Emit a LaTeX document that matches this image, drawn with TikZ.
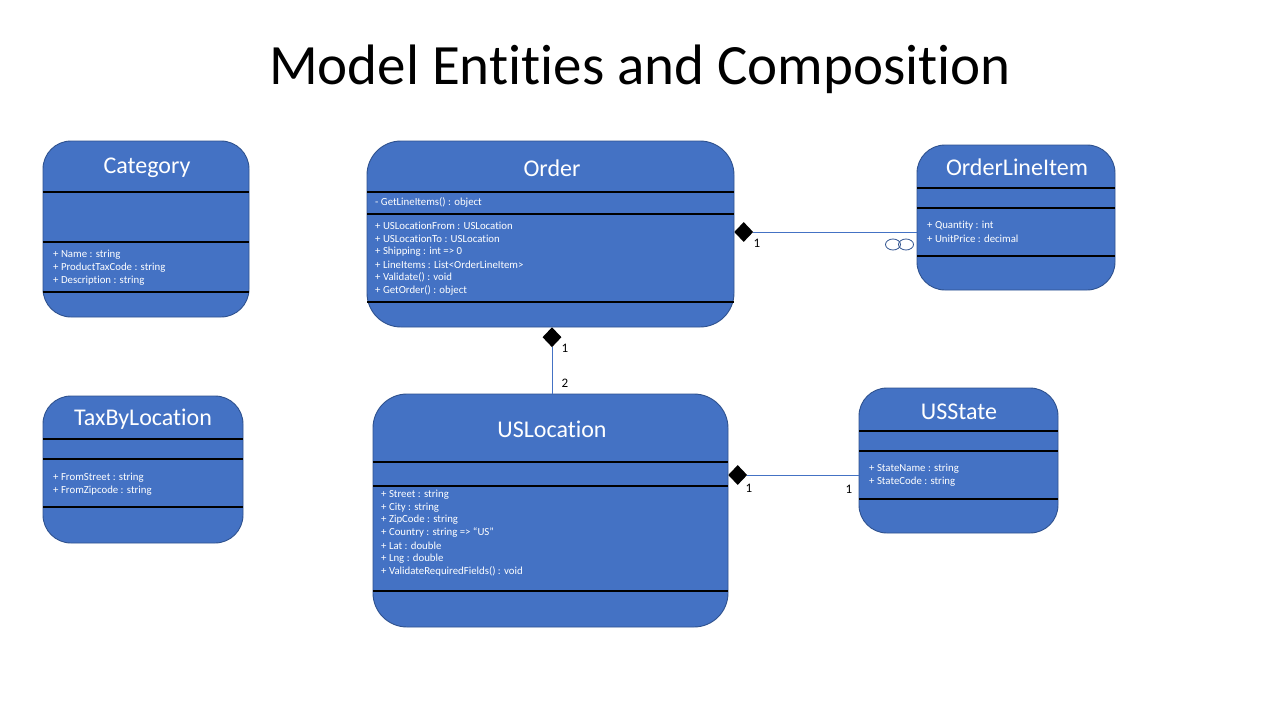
\documentclass[tikz,border=0pt]{standalone}
\usepackage{fontspec}
\setmainfont[Ligatures={NoCommon}]{Carlito}
\usetikzlibrary{shapes.geometric}
\definecolor{boxblue}{HTML}{4472C4}
\definecolor{boxedge}{HTML}{2F528F}
\begin{document}
\begin{tikzpicture}[x=1pt,y=-1pt,
 cls/.style={draw=boxedge, line width=0.9pt, fill=boxblue, rounded corners=28pt, inner sep=0pt},
 sep/.style={draw=black, line width=1.1pt},
 ctitle/.style={text=white, font=\fontsize{24}{28}\selectfont, inner sep=0pt},
 attr/.style={text=white, font=\fontsize{10.8}{13}\selectfont, anchor=west, inner sep=0pt},
 comp/.style={diamond, fill=black, inner sep=0pt, minimum width=19pt, minimum height=20pt},
 conn/.style={draw=boxblue, line width=1pt},
 mult/.style={font=\fontsize{13}{15}\selectfont, inner sep=0pt},
 oring/.style={draw=boxedge, ellipse, fill=white, minimum width=15pt, minimum height=11pt, inner sep=0pt, line width=0.8pt},
]
\useasboundingbox (0,0) rectangle (1280,720);
\fill[white] (0,0) rectangle (1280,720);

\node[font=\fontsize{57}{64}\selectfont, inner sep=0pt] (title) at (640,69) {Model Entities and Composition};

% Category
\node[cls, minimum width=206pt, minimum height=176pt] (cat) at (146,229) {};
\draw[sep] (43,192) -- (249,192);
\draw[sep] (43,242) -- (249,242);
\draw[sep] (43,292) -- (249,292);
\node[ctitle] (catT) at (147,168) {Category};
\foreach \t [count=\i] in {+ Name : string, + ProductTaxCode : string, + Description : string}
  \node[attr] (cat-a\i) at (53,{254.5+13*(\i-1)}) {\t};

% Order
\node[cls, minimum width=367pt, minimum height=186pt, rounded corners=34pt] (ord) at (550.5,234) {};
\draw[sep] (367,192) -- (734,192);
\draw[sep] (367,214) -- (734,214);
\draw[sep] (367,302) -- (734,302);
\node[ctitle] (ordT) at (552,168) {Order};
\node[attr] (ord-m) at (375,202.5) {- GetLineItems() : object};
\foreach \t [count=\i] in {+ USLocationFrom : USLocation, + USLocationTo : USLocation, + Shipping : int => 0, + LineItems : List<OrderLineItem>, + Validate() : void, + GetOrder() : object}
  \node[attr] (ord-a\i) at (375,{225.5+13*(\i-1)}) {\t};

% OrderLineItem
\node[cls, minimum width=198pt, minimum height=145pt] (oli) at (1016,217.5) {};
\draw[sep] (917,188) -- (1115,188);
\draw[sep] (917,208) -- (1115,208);
\draw[sep] (917,256) -- (1115,256);
\node[ctitle] (oliT) at (1017,167.5) {OrderLineItem};
\foreach \t [count=\i] in {+ Quantity : int, + UnitPrice : decimal}
  \node[attr] (oli-a\i) at (927,{225.5+13*(\i-1)}) {\t};

% TaxByLocation
\node[cls, minimum width=200pt, minimum height=147pt] (tax) at (143,469.5) {};
\draw[sep] (43,439) -- (243,439);
\draw[sep] (43,459) -- (243,459);
\draw[sep] (43,507) -- (243,507);
\node[ctitle] (taxT) at (143,419.5) {TaxByLocation};
\foreach \t [count=\i] in {+ FromStreet : string, + FromZipcode : string}
  \node[attr] (tax-a\i) at (53,{477.5+13*(\i-1)}) {\t};

% USLocation
\node[cls, minimum width=355pt, minimum height=233pt, rounded corners=34pt] (usl) at (550.5,510.5) {};
\draw[sep] (373,462) -- (728,462);
\draw[sep] (373,486) -- (728,486);
\draw[sep] (373,591) -- (728,591);
\node[ctitle] (uslT) at (552,429.5) {USLocation};
\foreach \t [count=\i] in {+ Street : string, + City : string, + ZipCode : string, + Country : string => “US”, + Lat : double, + Lng : double, + ValidateRequiredFields() : void}
  \node[attr] (usl-a\i) at (381,{494.5+12.8*(\i-1)}) {\t};

% USState
\node[cls, minimum width=199pt, minimum height=145pt] (ust) at (958.5,460.5) {};
\draw[sep] (859,431) -- (1058,431);
\draw[sep] (859,451) -- (1058,451);
\draw[sep] (859,499) -- (1058,499);
\node[ctitle] (ustT) at (959,411.5) {USState};
\foreach \t [count=\i] in {+ StateName : string, + StateCode : string}
  \node[attr] (ust-a\i) at (869,{468.5+13*(\i-1)}) {\t};

% Order -- OrderLineItem
\node[comp, anchor=west] (d1) at (734,232) {};
\draw[conn] (d1.east) -- (d1.east -| oli.west);
\node[mult] (m1) at (757,243) {1};
\node[oring] (e1) at (893,244.5) {};
\node[oring, fill=none] (e2) at (906,244.5) {};

% Order -- USLocation
\node[comp, anchor=north] (d2) at (552,327) {};
\draw[conn] (d2.south) -- (d2.south |- usl.north);
\node[mult] (m2) at (565,348) {1};
\node[mult] (m3) at (565,383) {2};

% USLocation -- USState
\node[comp, anchor=west] (d3) at (728,475) {};
\draw[conn] (d3.east) -- (d3.east -| ust.west);
\node[mult] (m4) at (749,488) {1};
\node[mult] (m5) at (849,489) {1};
\end{tikzpicture}
\end{document}
